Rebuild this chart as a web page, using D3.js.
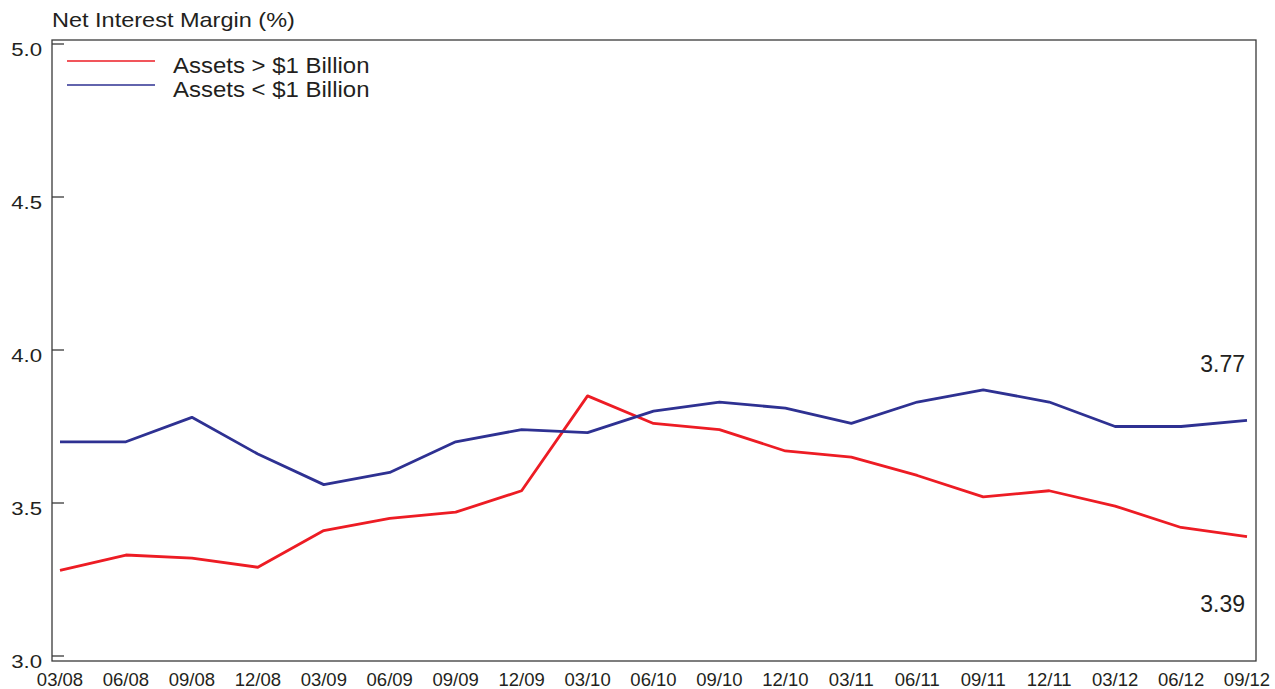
<!DOCTYPE html>
<html><head><meta charset="utf-8">
<script src="https://cdn.jsdelivr.net/npm/d3@7"></script>
<style>
body{margin:0;background:#fff;}
text{font-family:"Liberation Sans",Arial,Helvetica,sans-serif;fill:#231f20;}
</style></head>
<body><svg id="c" width="1275" height="689"></svg>
<script>
const quarters = ["03/08","06/08","09/08","12/08","03/09","06/09","09/09","12/09","03/10","06/10","09/10","12/10","03/11","06/11","09/11","12/11","03/12","06/12","09/12"];
const assetsOver1B = [3.28,3.33,3.32,3.29,3.41,3.45,3.47,3.54,3.85,3.76,3.74,3.67,3.65,3.59,3.52,3.54,3.49,3.42,3.39];
const assetsUnder1B = [3.70,3.70,3.78,3.66,3.56,3.60,3.70,3.74,3.73,3.80,3.83,3.81,3.76,3.83,3.87,3.83,3.75,3.75,3.77];
const yTicks = [3.0,3.5,4.0,4.5,5.0];
const seriesNames = ["Assets > $1 Billion","Assets < $1 Billion"];
const colors = ["#ed1c24","#2e3192"];
const endLabels = ["3.39","3.77"];

const svg = d3.select("#c");
const frame = {l:52, t:40, r:1256, b:661};
const x = d3.scalePoint().domain(quarters).range([60,1247]);
const y = d3.scaleLinear().domain([3,5]).range([656,44]);

// frame
svg.append("rect").attr("x",frame.l).attr("y",frame.t)
  .attr("width",frame.r-frame.l).attr("height",frame.b-frame.t)
  .attr("fill","none").attr("stroke","#3a3a3a").attr("stroke-width",1.3);

// y ticks (inward)
const yAxis = svg.append("g");
yTicks.forEach(v=>{
  yAxis.append("line").attr("x1",frame.l).attr("x2",frame.l+12)
    .attr("y1",y(v)).attr("y2",y(v)).attr("stroke","#3a3a3a").attr("stroke-width",1.3);
  yAxis.append("text").attr("transform",`translate(42,${y(v)+12}) scale(1.2,1)`)
    .attr("text-anchor","end").attr("font-size",18.5).text(d3.format(".1f")(v));
});

// x labels
svg.append("g").selectAll("text").data(quarters).join("text")
  .attr("x",d=>x(d)).attr("y",686).attr("text-anchor","middle")
  .attr("font-size",18.5).text(d=>d);

// title
svg.append("text").attr("transform","translate(52,27) scale(1.2,1)")
  .attr("font-size",19.6).text("Net Interest Margin (%)");

// lines
const line = d3.line().x((d,i)=>x(quarters[i])).y(d=>y(d));
[assetsOver1B, assetsUnder1B].forEach((s,i)=>{
  svg.append("path").datum(s).attr("d",line).attr("fill","none")
    .attr("stroke",colors[i]).attr("stroke-width",2.8).attr("stroke-linejoin","round");
});

// legend
seriesNames.forEach((n,i)=>{
  const ly = 61 + i*24;
  svg.append("line").attr("x1",67).attr("x2",155).attr("y1",ly).attr("y2",ly)
    .attr("stroke",colors[i]).attr("stroke-width",1.3);
  svg.append("text").attr("transform",`translate(173,${ly+11.5}) scale(1.09,1)`)
    .attr("font-size",22).text(n);
});

// end labels
svg.append("text").attr("x",1245).attr("y",372).attr("text-anchor","end")
  .attr("font-size",23).text(endLabels[1]);
svg.append("text").attr("x",1245).attr("y",612).attr("text-anchor","end")
  .attr("font-size",23).text(endLabels[0]);
</script></body></html>
